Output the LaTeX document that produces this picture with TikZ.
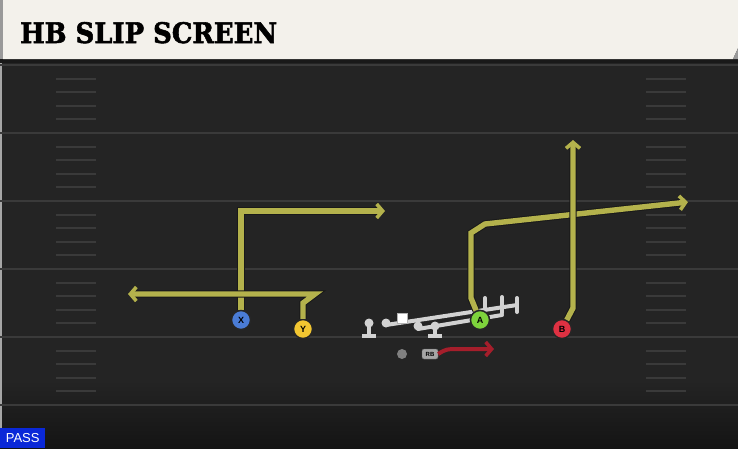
\documentclass[tikz,border=0pt]{standalone}
\usepackage{fontspec}
\usepackage{graphicx}
\setsansfont{Liberation Sans}
\newfontfamily\titlefont[FakeBold=2]{DejaVu Serif}
\usetikzlibrary{arrows.meta}
\definecolor{fieldcol}{HTML}{242424}
\definecolor{linecol}{HTML}{3A3A3A}
\definecolor{headcol}{HTML}{F3F1EB}
\definecolor{routecol}{HTML}{B4B24C}
\definecolor{xblue}{HTML}{4A7CD6}
\definecolor{yyellow}{HTML}{F2C631}
\definecolor{agreen}{HTML}{7ED43C}
\definecolor{bred}{HTML}{DF3142}
\definecolor{rbred}{HTML}{A51E2B}
\definecolor{passblue}{HTML}{0A28D8}
\definecolor{olcol}{HTML}{D2D2D2}
\begin{document}
\begin{tikzpicture}[x=1pt,y=-1pt,
        player/.style = {circle, draw=black!85, line width=1.4pt,
                         minimum size=19pt, inner sep=0pt,
                         font=\sffamily\bfseries\small},
        route/.style = {draw=routecol, line width=5.4pt, line join=miter,
                        preaction={draw=black!90, line width=7.4pt}},
        tip/.style = {-{Straight Barb[length=6pt,width=14pt,line width=3.6pt]}},
        olbar/.style = {draw=olcol, line width=4pt, line cap=round}]
    \useasboundingbox (0,0) rectangle (738,448);
    \fill[fieldcol] (0,0) rectangle (738,448);
    \shade[top color=fieldcol, bottom color=black!92] (0,380) rectangle (738,448);
    \fill[black!35] (0,60) rectangle (2,448);
    \fill[black!90] (0,56) rectangle (738,63);
    \fill[black!40] (0,0) rectangle (3,59);
    \fill[headcol] (3,0) -- (738,0) -- (738,48) -- (733,59) -- (3,59) -- cycle;
    \fill[black!40] (738,48) -- (738,59) -- (733,59) -- cycle;
    \node[anchor=base west, inner sep=0pt] (title) at (20,43)
        {\resizebox{257pt}{21pt}{\titlefont\bfseries HB SLIP SCREEN}};
    \foreach \k in {0,...,5}
        \draw[linecol, line width=2.6pt] (0,65+68*\k) -- (738,65+68*\k);
    \foreach \k in {0,...,4}
        \foreach \j in {1,...,4} {
            \draw[linecol, line width=2pt] (56,65+68*\k+13.6*\j) -- (96,65+68*\k+13.6*\j);
            \draw[linecol, line width=2pt] (646,65+68*\k+13.6*\j) -- (686,65+68*\k+13.6*\j);
        }
    \node[fill=passblue, text=white, anchor=south west, minimum width=45pt,
          minimum height=20pt, inner sep=0pt, font=\sffamily\fontsize{13}{13}\selectfont]
          (pass) at (0,448) {PASS};
    \draw[olbar] (386,325) -- (517,305);
    \draw[olbar] (418,329) -- (502,315);
    \draw[olbar] (517,298) -- (517,312);
    \draw[olbar] (502,297) -- (502,313);
    \draw[olbar] (485,298) -- (485,308);
    \foreach \x in {369,435} {
        \draw[olbar, line cap=butt] (\x,325) -- (\x,336);
        \draw[olbar, line cap=butt] (\x-7,336) -- (\x+7,336);
    }
    \fill[olcol] (369,323) circle (4.5pt) (386,323) circle (4.5pt)
                 (418,326) circle (4.5pt) (435,326) circle (4.5pt);
    \node[fill=white, draw=black!30, minimum size=10pt, inner sep=0pt] (qb) at (402,318) {};
    \fill[black!50] (402,354) circle (5pt);
    \node[fill=black!35, draw=black!60, rounded corners=2pt, minimum width=16pt,
          minimum height=10pt, inner sep=0pt, text=black,
          font=\sffamily\bfseries\fontsize{6}{6}\selectfont] (RB) at (430,354) {RB};
    \node[player, fill=xblue] (X) at (241,320) {X};
    \node[player, fill=yyellow] (Y) at (303,329) {Y};
    \node[player, fill=agreen] (A) at (480,320) {A};
    \node[player, fill=bred] (B) at (562,329) {B};
    \coordinate (x1) at (241,211);
    \coordinate (x2) at (385,211);
    \coordinate (y1) at (303,303);
    \coordinate (y2) at (315,294);
    \coordinate (y3) at (128,294);
    \coordinate (a1) at (471,298);
    \coordinate (a2) at (471,233);
    \coordinate (a3) at (485,224);
    \coordinate (a4) at (688,202);
    \coordinate (b1) at (573,308);
    \coordinate (b2) at (573,140);
    \coordinate (r1) at (494,349);
    \draw[route, tip] (X) -- (x1) -- (x2);
    \draw[route, tip] (Y) -- (y1) -- (y2) -- (y3);
    \draw[route, tip] (A) -- (a1) -- (a2) -- (a3) -- (a4);
    \draw[route, tip] (B) -- (b1) -- (b2);
    \draw[rbred, line width=4pt, tip] (RB.east) .. controls (446,349) .. (462,349) -- (r1);
    \node[player, fill=xblue] at (X) {X};
    \node[player, fill=agreen] at (A) {A};
\end{tikzpicture}
\end{document}
